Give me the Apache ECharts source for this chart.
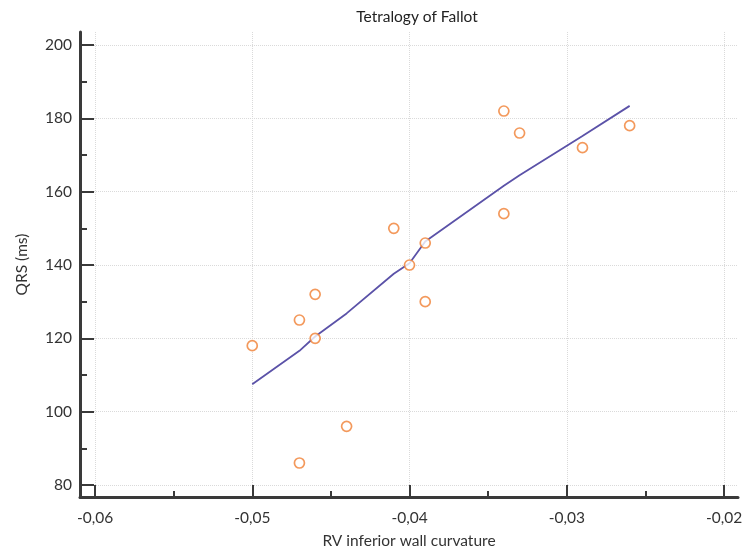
<!DOCTYPE html>
<html>
<head>
<meta charset="utf-8">
<script src="https://cdn.jsdelivr.net/npm/echarts@6/dist/echarts.min.js"></script>
<style>
  html, body { margin: 0; padding: 0; background: #fff; }
  #chart { width: 742px; height: 551px; }
</style>
</head>
<body>
<div id="chart"></div>
<script>
// observed points
const curvature = [-0.05, -0.047, -0.046, -0.046, -0.044, -0.047, -0.041, -0.04, -0.039, -0.039, -0.034, -0.033, -0.034, -0.029, -0.026];
const qrs = [118, 125, 132, 120, 96, 86, 150, 140, 146, 130, 182, 176, 154, 172, 178];

// fitted line
const fitX = [-0.05, -0.047, -0.046, -0.044, -0.041, -0.04, -0.039, -0.034, -0.033, -0.029, -0.026];
const fitY = [107.5, 116.6, 120.5, 126.8, 137.6, 140.5, 146.4, 161.6, 164.5, 175.2, 183.4];

// tick values
const xMajor = [-0.06, -0.05, -0.04, -0.03, -0.02];
const xMinor = [-0.055, -0.045, -0.035, -0.025];
const yMajor = [80, 100, 120, 140, 160, 180, 200];
const yMinor = [90, 110, 130, 150, 170, 190];

const font = "Lato, 'Open Sans', sans-serif";
const axisDark = "#3a3a3a";

const chart = echarts.init(document.getElementById("chart"));

const option = {
  animation: false,
  title: {
    text: "Tetralogy of Fallot",
    left: 412,
    top: 4,
    textAlign: "center",
    textStyle: { fontFamily: font, fontSize: 15.5, fontWeight: "normal", color: "#222" },
  },
  grid: { left: 80, right: 4, top: 32, bottom: 54, outerBoundsMode: "none", containLabel: false },
  xAxis: [
    {
      type: "value",
      position: "bottom",
      min: -0.060954,
      max: -0.01911,
      name: "RV inferior wall curvature",
      nameLocation: "middle",
      nameGap: 36,
      nameTextStyle: { fontFamily: font, fontSize: 15.5, color: "#333" },
      axisLine: { show: true, onZero: false, lineStyle: { color: axisDark, width: 3 } },
      axisTick: {
        show: true,
        inside: true,
        length: 12,
        customValues: xMajor,
        lineStyle: { color: axisDark, width: 2 },
      },
      axisLabel: {
        customValues: xMajor,
        margin: 13,
        fontFamily: font,
        fontSize: 15.5,
        color: "#333",
        formatter: (v) => v.toFixed(2).replace(".", ","),
      },
      splitLine: { show: true, lineStyle: { color: "#dadada", type: "dotted", width: 1 } },
    },
    {
      type: "value",
      position: "bottom",
      min: -0.060954,
      max: -0.01911,
      axisLine: { show: false },
      axisTick: {
        show: true,
        inside: true,
        length: 6,
        customValues: xMinor,
        lineStyle: { color: axisDark, width: 2 },
      },
      axisLabel: { show: false },
      splitLine: { show: false },
    },
  ],
  yAxis: [
    {
      type: "value",
      position: "left",
      min: 76.73,
      max: 203.55,
      name: "QRS (ms)",
      nameLocation: "middle",
      nameGap: 50,
      nameTextStyle: { fontFamily: font, fontSize: 15.5, color: "#333" },
      axisLine: { show: true, onZero: false, lineStyle: { color: axisDark, width: 3 } },
      axisTick: {
        show: true,
        inside: true,
        length: 14,
        customValues: yMajor,
        lineStyle: { color: axisDark, width: 2 },
      },
      axisLabel: {
        customValues: yMajor,
        margin: 8,
        fontFamily: font,
        fontSize: 15.5,
        color: "#333",
      },
      splitLine: { show: true, lineStyle: { color: "#dadada", type: "dotted", width: 1 } },
    },
    {
      type: "value",
      position: "left",
      min: 76.73,
      max: 203.55,
      axisLine: { show: false },
      axisTick: {
        show: true,
        inside: true,
        length: 7,
        customValues: yMinor,
        lineStyle: { color: axisDark, width: 2 },
      },
      axisLabel: { show: false },
      splitLine: { show: false },
    },
  ],
  series: [
    {
      type: "line",
      xAxisIndex: 0,
      yAxisIndex: 0,
      data: fitX.map((x, i) => [x, fitY[i]]),
      showSymbol: false,
      symbol: "none",
      lineStyle: { color: "#5b52a8", width: 1.8 },
      z: 2,
    },
    {
      type: "scatter",
      xAxisIndex: 0,
      yAxisIndex: 0,
      data: curvature.map((x, i) => [x, qrs[i]]),
      symbol: "circle",
      symbolSize: 10,
      itemStyle: { color: "#fff", borderColor: "#f07f33", borderWidth: 1.7 },
      z: 3,
    },
  ],
};

chart.setOption(option);
</script>
</body>
</html>
